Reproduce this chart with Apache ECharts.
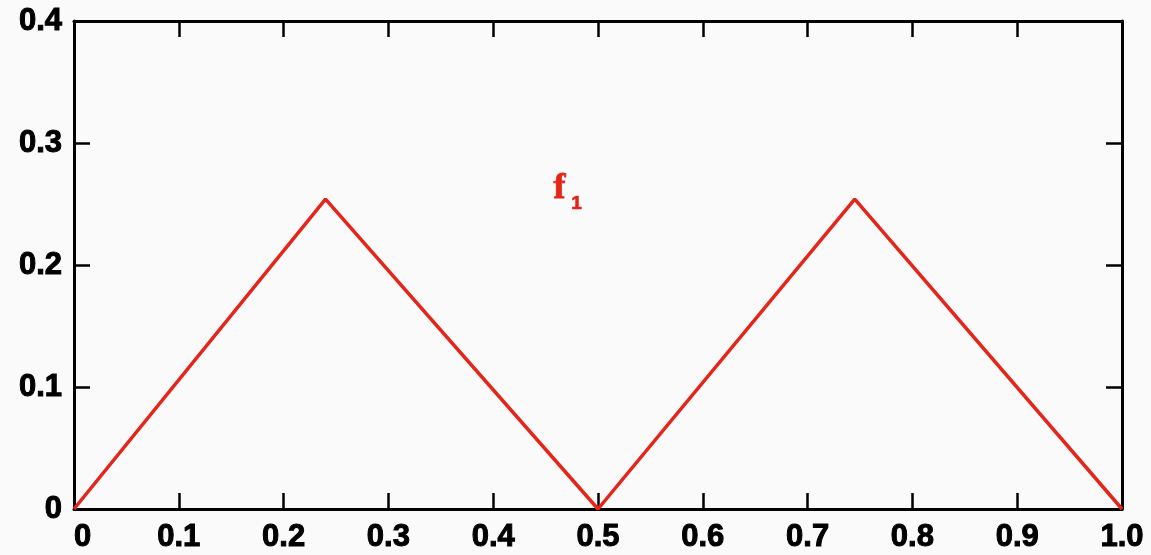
<!DOCTYPE html>
<html>
<head>
<meta charset="utf-8">
<script src="https://cdn.jsdelivr.net/npm/echarts@6/dist/echarts.min.js"></script>
<style>
  html, body { margin: 0; padding: 0; background: #fafafa; }
  #main { width: 1151px; height: 555px; }
</style>
</head>
<body>
<div id="main"></div>
<script>
// corner points of the triangle wave f1
var xValues = [0, 0.24, 0.5, 0.745, 1.0];
var yValues = [0, 0.254, 0, 0.254, 0];
var xTickLabels = ['0', '0.1', '0.2', '0.3', '0.4', '0.5', '0.6', '0.7', '0.8', '0.9', '1.0'];
var yTickLabels = ['0', '0.1', '0.2', '0.3', '0.4'];

var labelFont = {
    color: '#000',
    fontFamily: 'Liberation Sans',
    fontWeight: 'bold',
    fontSize: 31,
    textBorderColor: '#000',
    textBorderWidth: 1
};
var lineCol = '#e5241a';

var points = xValues.map(function (x, i) { return [x, yValues[i]]; });

function frameAxis(pos, max, labelOpt) {
    return {
        type: 'value', position: pos, min: 0, max: max, interval: 0.1,
        axisLine: { show: true, onZero: false, lineStyle: { color: '#000', width: 3 } },
        axisTick: { show: true, inside: true, length: 16, lineStyle: { color: '#000', width: 2.5 } },
        axisLabel: labelOpt || { show: false },
        splitLine: { show: false }
    };
}

var myChart = echarts.init(document.getElementById('main'));
var option = {
    backgroundColor: '#fafafa',
    animation: false,
    grid: { left: 74, right: 29, top: 21, bottom: 46 },
    xAxis: [
        frameAxis('bottom', 1, Object.assign({
            margin: 13,
            alignMinLabel: 'left',
            formatter: function (v) { return xTickLabels[Math.round(v * 10)]; }
        }, labelFont)),
        frameAxis('top', 1)
    ],
    yAxis: [
        frameAxis('left', 0.4, Object.assign({
            margin: 12,
            formatter: function (v) { return yTickLabels[Math.round(v * 10)]; }
        }, labelFont)),
        frameAxis('right', 0.4)
    ],
    graphic: [
        {
            type: 'text', left: 553, top: 170, z: 10,
            style: {
                text: 'f', fill: lineCol, stroke: lineCol, lineWidth: 0.8,
                fontFamily: 'Liberation Serif', fontWeight: 'bold', fontSize: 36
            }
        },
        {
            type: 'text', left: 571, top: 194, z: 10,
            style: {
                text: '1', fill: lineCol, stroke: lineCol, lineWidth: 0.6,
                fontFamily: 'Liberation Sans', fontWeight: 'bold', fontSize: 19
            }
        }
    ],
    series: [
        {
            name: 'f1',
            type: 'line',
            data: points,
            symbol: 'none',
            lineStyle: { color: lineCol, width: 3.5 }
        }
    ]
};
myChart.setOption(option);
</script>
</body>
</html>
